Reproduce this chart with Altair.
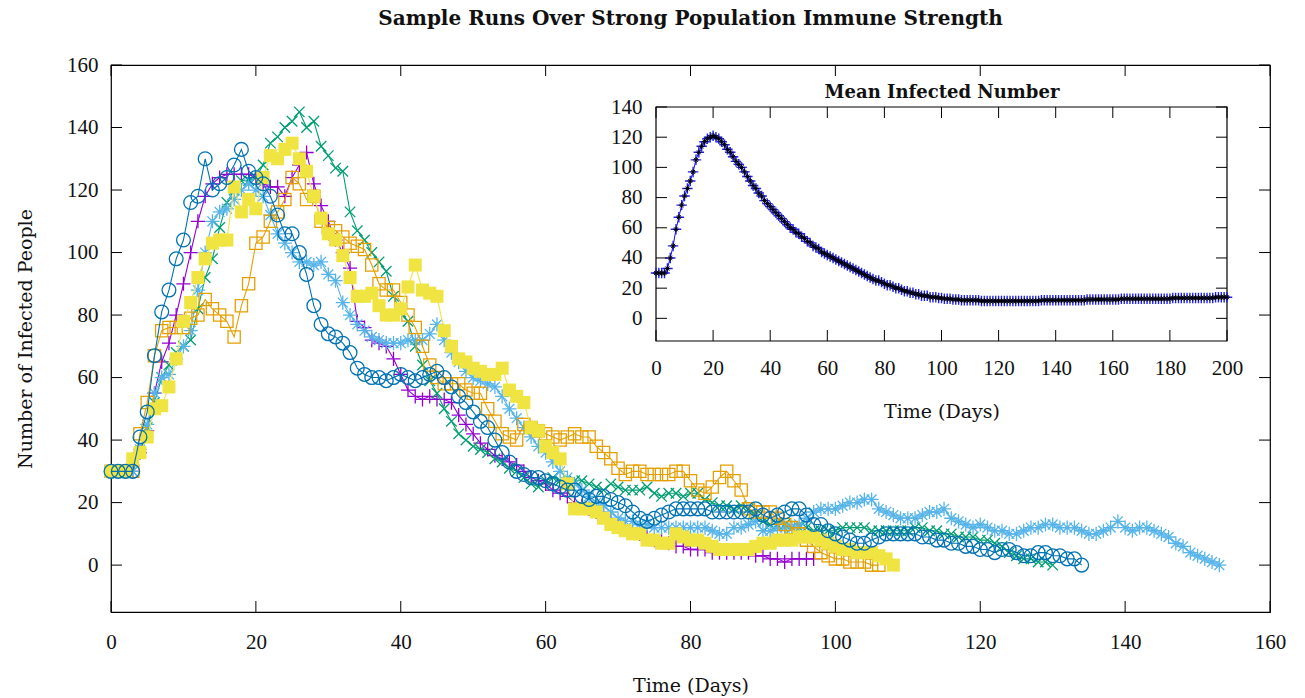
import altair as alt
import pandas as pd

W, H = 1159, 547
FONT = "DejaVu Serif"
LFONT = "Liberation Serif"

# ---------------- data ----------------
purple = [30,30,30,30,36,43,55,65,71,80,
          90,100,110,118,122,124,125,125,125,125,
          124,122,121,121,118,124,128,132,122,115,
          110,104,100,95,78,76,72,71,70,66,
          61,56,54,53,54,53,53,52,48,45,
          42,39,37,35,34,33,32,30,28,27,
          26,24,23,22,20,19,18,17,16,14,
          13,12,11,10,9,8,8,7,6,6,
          5,5,5,4,4,4,4,4,4,3,
          3,2,2,1,2,2,2,2]
green = [30,30,30,30,36,44,52,60,64,68,
         70,72,82,92,98,108,116,120,123,123,
         124,128,135,137,140,142,145,140,142,134,
         131,127,126,113,107,104,100,97,94,86,
         81,78,70,64,59,55,50,46,42,40,
         38,37,36,34,33,31,30,28,26,25,
         27,28,27,26,27,27,26,25,24,26,
         25,24,24,24,25,23,22,23,23,22,
         23,23,21,20,19,19,18,19,18,16,
         14,13,13,13,12,12,12,11,11,11,
         11,12,12,12,12,11,11,11,11,11,
         11,12,12,11,11,10,10,9,9,9,
         8,8,7,6,4,3,2,2,1,1,
         0]
lightblue = [30,30,30,30,37,45,55,60,61,66,
             70,75,88,100,110,113,114,117,120,122,
             120,118,112,106,103,100,97,97,96,97,
             93,91,84,80,77,75,73,72,71,71,
             71,72,72,72,74,77,72,68,65,62,
             60,59,58,57,54,50,47,44,41,38,
             36,33,30,28,26,24,22,20,19,17,
             15,14,14,13,13,12,12,12,12,12,
             12,12,12,11,10,10,12,12,13,14,
             11,11,12,12,12,13,15,17,18,18,
             18,19,20,20,21,21,18,17,16,15,
             15,15,16,17,17,18,15,14,13,12,
             13,12,11,11,10,10,11,12,12,13,
             13,12,12,12,11,10,10,11,12,14,
             12,11,12,12,11,10,9,7,6,4,
             3,2,1,0]
orange = [30,30,30,30,42,52,67,75,76,76,
          76,79,80,85,82,80,78,73,83,90,
          103,105,110,113,117,124,122,117,118,110,
          108,107,105,103,102,101,96,90,88,88,
          84,80,76,70,64,60,58,58,58,56,
          55,55,50,46,42,41,40,45,44,43,
          42,41,40,41,42,41,41,38,36,34,
          31,29,30,30,29,29,29,29,30,30,
          27,24,23,25,28,30,27,24,18,17,
          17,17,15,13,12,10,8,6,4,3,
          2,2,1,1,1,0,0]
yellow = [30,30,30,34,36,41,50,51,57,66,
          78,84,92,98,103,104,104,121,113,117,
          114,124,131,130,133,135,130,126,118,111,
          106,104,99,92,86,86,87,83,80,80,
          82,89,96,88,87,86,75,70,66,65,
          63,62,61,61,63,56,54,52,44,43,
          38,36,34,26,18,18,18,17,15,13,
          12,11,10,10,8,8,7,7,10,9,
          8,8,7,6,5,5,5,5,5,6,
          7,7,8,8,8,9,9,9,8,7,
          6,5,5,4,4,4,3,2,0]
blue = [30,30,30,30,41,49,67,81,88,98,
        104,116,118,130,120,122,124,128,133,126,
        124,122,118,112,106,106,100,93,83,77,
        74,73,71,68,63,61,60,60,59,60,
        61,60,59,60,61,62,60,57,54,52,
        49,46,44,40,36,33,30,29,28,28,
        27,26,25,24,24,22,21,22,22,21,
        20,19,17,15,14,15,16,17,18,18,
        18,18,18,17,17,17,17,17,17,18,
        16,15,16,17,18,18,16,13,13,11,
        10,9,8,7,7,8,9,10,10,10,
        10,10,9,9,8,8,7,7,6,6,
        5,5,4,5,5,4,3,3,4,4,
        3,3,2,2,0]
mean = [30,30,30,30,33,40,48,59,67,75,
        81,86,91,97,105,110,114,117,119,120,
        121,120,119,117,115,112,110,107,104,102,
        100,97,94,91,88,86,83,81,78,76,
        74,72,70,68,66,64,62,60,59,57,
        56,54,53,51,50,48,47,46,44,43,
        42,41,40,39,38,37,36,35,34,33,
        32,31,30,29,28,27,26,25,25,24,
        23,22,22,21,20,20,19,18,18,17,
        17,16,16,15,15,15,14,14,14,13.5,
        13.5,13,13,13,12.5,12.5,12.5,12,12,12,
        12,12,12,12,11.5,11.5,11.5,11.5,11.5,11.5,
        11.5,11.5,11.5,11.5,11.5,11.5,11.5,11.5,11.5,11.5,
        11.5,11.5,11.5,11.5,11.5,12,12,12,12,12,
        12,12,12,12,12,12,12,12,12,12,
        12,12.5,12.5,12.5,12.5,12.5,12.5,12.5,12.5,12.5,
        12.5,12.5,12.5,13,13,13,13,13,13,13,
        13,13,13,13,13,13,13,13,13,13,
        13,13.5,13.5,13.5,13.5,13.5,13.5,13.5,13.5,13.5,
        13.5,13.5,13.5,13.5,13.5,13.5,14,14,14,14,
        14]

main_x_ticks = [0, 20, 40, 60, 80, 100, 120, 140, 160]
main_y_ticks = [0, 20, 40, 60, 80, 100, 120, 140, 160]
inset_x_ticks = [0, 20, 40, 60, 80, 100, 120, 140, 160, 180, 200]
inset_y_ticks = [0, 20, 40, 60, 80, 100, 120, 140]

MAIN_X_DOM = [0, 160]
MAIN_Y_DOM = [-15, 160]
INS_X_DOM = [0, 200]
INS_Y_DOM = [-15, 140]

# ---------------- styles ----------------
PLUS = "M-1,0L1,0M0,-1L0,1"
CROSS = "M-1,-1L1,1M-1,1L1,-1"
STAR = "M-1,0L1,0M0,-1L0,1M-0.7,-0.7L0.7,0.7M-0.7,0.7L0.7,-0.7"
TICK = 11

series = [
    (purple, "#9400D3", PLUS, 200, False),
    (green, "#009E73", CROSS, 110, False),
    (lightblue, "#56B4E9", STAR, 200, False),
    (orange, "#E69F00", "square", 150, False),
    (yellow, "#F0E442", "square", 170, True),
    (blue, "#0072B2", "circle", 190, False),
]

IX_RANGE = [545, 1116]
IY_RANGE = [276, 42]


def mscale_x():
    return alt.Scale(domain=MAIN_X_DOM, nice=False, zero=False)


def mscale_y():
    return alt.Scale(domain=MAIN_Y_DOM, nice=False, zero=False)


def iscale_x():
    return alt.Scale(domain=INS_X_DOM, range=IX_RANGE, nice=False, zero=False)


def iscale_y():
    return alt.Scale(domain=INS_Y_DOM, range=IY_RANGE, nice=False, zero=False)


LAB = dict(labelFont=LFONT, labelFontSize=21, labelColor="#111111", labelFlush=False,
           labelOverlap=False,
           titleFont=FONT, titleFontSize=19, titleColor="#111111", titleFontWeight="normal")


def tick_layers(sx, sy, xticks, yticks, xdom, ydom):
    """Inward-pointing tick marks on all four sides, drawn with rules on the scales."""
    out = []
    for yv, off in ((ydom[0], -TICK), (ydom[1], TICK)):
        d = pd.DataFrame({"t": xticks, "e": [yv] * len(xticks)})
        out.append(alt.Chart(d).mark_rule(color="black", strokeWidth=1, y2Offset=off).encode(
            x=alt.X("t:Q", scale=sx(), axis=None),
            y=alt.Y("e:Q", scale=sy(), axis=None),
            y2="e:Q"))
    for xv, off in ((xdom[0], TICK), (xdom[1], -TICK)):
        d = pd.DataFrame({"t": yticks, "e": [xv] * len(yticks)})
        out.append(alt.Chart(d).mark_rule(color="black", strokeWidth=1, x2Offset=off).encode(
            y=alt.Y("t:Q", scale=sy(), axis=None),
            x=alt.X("e:Q", scale=sx(), axis=None),
            x2="e:Q"))
    return out


layers = []
for vals, color, shape, size, filled in series:
    df = pd.DataFrame({"day": list(range(len(vals))), "value": vals})
    base = alt.Chart(df)
    enc = dict(x=alt.X("day:Q", scale=mscale_x(), axis=None),
               y=alt.Y("value:Q", scale=mscale_y(), axis=None))
    layers.append(base.mark_line(color=color, strokeWidth=1.1).encode(**enc))
    if filled:
        pts = base.mark_point(shape=shape, size=size, filled=True, fill=color, color=color,
                              opacity=1, strokeWidth=0)
    else:
        pts = base.mark_point(shape=shape, size=size, filled=False, color=color,
                              opacity=1, strokeWidth=1.3)
    layers.append(pts.encode(**enc))

anchor = pd.DataFrame({"day": [0], "value": [0]})

# main axes with labels and titles
layers.append(alt.Chart(anchor).mark_point(opacity=0).encode(
    x=alt.X("day:Q", scale=mscale_x(),
            axis=alt.Axis(orient="bottom", values=main_x_ticks, ticks=False, domain=False,
                          grid=False, labelPadding=19, title="Time (Days)", titlePadding=24,
                          minExtent=0, **LAB)),
    y=alt.Y("value:Q", scale=mscale_y(),
            axis=alt.Axis(orient="left", values=main_y_ticks, ticks=False, domain=False,
                          grid=False, labelPadding=13, title="Number of Infected People",
                          titlePadding=31, minExtent=0, **LAB)),
))
layers += tick_layers(mscale_x, mscale_y, main_x_ticks, main_y_ticks, MAIN_X_DOM, MAIN_Y_DOM)

# ---------------- inset ----------------
box = pd.DataFrame({"x0": [INS_X_DOM[0]], "x1": [INS_X_DOM[1]],
                    "y0": [INS_Y_DOM[0]], "y1": [INS_Y_DOM[1]]})
layers.append(alt.Chart(box).mark_rect(fill="white", stroke="black", strokeWidth=1.2).encode(
    x=alt.X("x0:Q", scale=iscale_x(),
            axis=alt.Axis(orient="bottom", offset=IY_RANGE[0] - H, values=inset_x_ticks,
                          ticks=False, domain=False, grid=False, labelPadding=16,
                          title="Time (Days)", titlePadding=24, minExtent=0, **LAB)),
    x2="x1:Q",
    y=alt.Y("y0:Q", scale=iscale_y(),
            axis=alt.Axis(orient="left", offset=-IX_RANGE[0], values=inset_y_ticks,
                          ticks=False, domain=False, grid=False, labelPadding=14,
                          title=None, minExtent=0, **LAB)),
    y2="y1:Q",
))

mdf = pd.DataFrame({"day": list(range(len(mean))), "value": mean})
mbase = alt.Chart(mdf)
ienc = dict(x=alt.X("day:Q", scale=iscale_x(), axis=None),
            y=alt.Y("value:Q", scale=iscale_y(), axis=None))
layers.append(mbase.mark_line(color="#1010e0", strokeWidth=1).encode(**ienc))
layers.append(mbase.mark_point(shape=PLUS, size=110, filled=False, color="#2222ee", opacity=1,
                               strokeWidth=1.4).encode(**ienc))
layers.append(mbase.mark_point(shape=STAR, size=32, filled=False, color="black", opacity=1,
                               strokeWidth=1).encode(**ienc))

layers += tick_layers(iscale_x, iscale_y, inset_x_ticks, inset_y_ticks, INS_X_DOM, INS_Y_DOM)

# inset title as a top-axis title
layers.append(alt.Chart(anchor).mark_point(opacity=0).encode(
    x=alt.X("day:Q", scale=iscale_x(),
            axis=alt.Axis(orient="top", offset=-IY_RANGE[1], labels=False, ticks=False,
                          domain=False, grid=False, title="Mean Infected Number",
                          titlePadding=6, titleFont=FONT, titleFontSize=18,
                          titleColor="#111111", titleFontWeight="bold", minExtent=0,
                          values=[0])),
    y=alt.Y("value:Q", scale=iscale_y(), axis=None),
))

chart = alt.layer(*layers).resolve_scale(x="independent", y="independent").properties(
    width=W, height=H,
    background="white",
    padding={"left": 111, "top": 65, "right": 35, "bottom": 86},
    autosize=alt.AutoSizeParams(type="none"),
    title=alt.TitleParams("Sample Runs Over Strong Population Immune Strength", font=FONT,
                          fontSize=20, fontWeight="bold", anchor="middle", offset=25,
                          color="#111111"),
).configure_view(stroke="black", strokeWidth=1.2)

chart.save("out.html", embed_options={"renderer": "svg", "actions": False})
